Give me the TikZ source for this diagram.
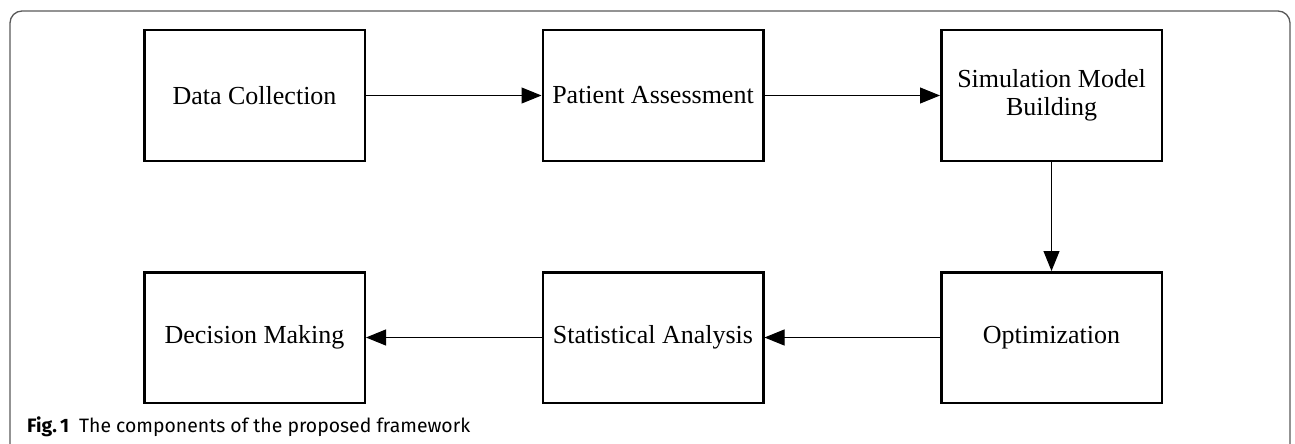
\documentclass[tikz,border=0pt]{standalone}
\usepackage{fontspec}
\setmainfont{Liberation Serif}
\newfontfamily\capfont{Fira Sans}
\usetikzlibrary{arrows.meta}
\begin{document}
\begin{tikzpicture}[x=1pt,y=-1pt,
  stage/.style={draw, line width=2.5pt, minimum width=220.5pt, minimum height=130.5pt,
    inner sep=0pt, align=center, font=\fontsize{26}{28.5}\selectfont},
  flow/.style={line width=1pt, -{Triangle[length=20pt,width=16pt]}},
  frame/.style={draw=black!65, line width=1.3pt, rounded corners=12pt}]
\useasboundingbox (0,0) rectangle (1295,444);
\draw[frame] (10,460) -- (10,11) -- (1290,11) -- (1290,460);
\node[stage] (dc)  at (254.5,95.5)  {Data Collection};
\node[stage] (pa)  at (653,95.5)    {Patient Assessment};
\node[stage] (smb) at (1051.5,95.5) {Simulation Model\\Building};
\node[stage] (opt) at (1051.5,337.5) {Optimization};
\node[stage] (sa)  at (653,337.5)   {Statistical Analysis};
\node[stage] (dm)  at (254.5,337.5) {Decision Making};
\draw[flow] (dc) -- (pa);
\draw[flow] (pa) -- (smb);
\draw[flow] (smb) -- (opt);
\draw[flow] (opt) -- (sa);
\draw[flow] (sa) -- (dm);
\node[anchor=base west, inner sep=0pt, font=\capfont\fontsize{19.4}{22}\selectfont] (cap) at (27,432)
  {\textbf{Fig.\,1}\hspace{10pt}The components of the proposed framework};
\end{tikzpicture}
\end{document}
